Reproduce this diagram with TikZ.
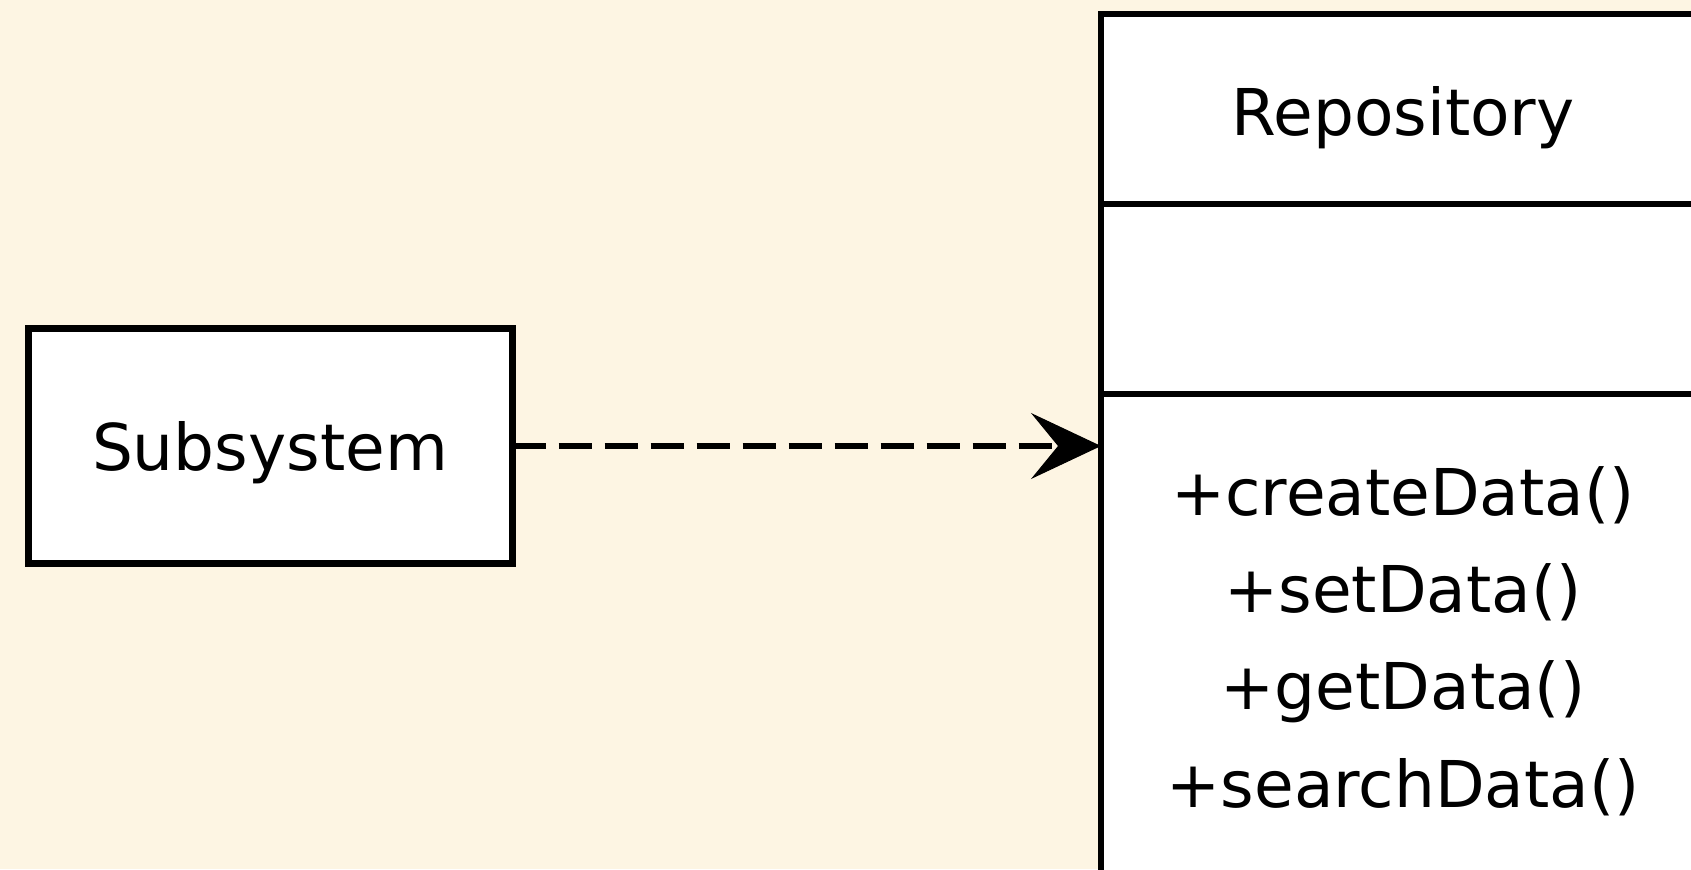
\documentclass[tikz,border=0pt]{standalone}
\usepackage{fontspec}
\setmainfont{DejaVu Sans}
\usetikzlibrary{arrows.meta}
\definecolor{canvas}{HTML}{FDF5E3}
\begin{document}
\begin{tikzpicture}[x=1bp,y=-1bp,
  box/.style={draw=black, line width=6.5bp, fill=white, rectangle,
    inner sep=0pt, outer sep=0pt},
  lbl/.style={font=\fontsize{64.5bp}{97bp}\selectfont, inner sep=0pt, anchor=base},
  dep/.style={line width=6bp, dash pattern=on 33bp off 13bp,
    -{Stealth[length=70bp,width=66bp,inset=27bp,line width=1bp]}}]
\useasboundingbox (0,0) rectangle (1691,869);
\clip (0,0) rectangle (1691,869);
\fill[canvas] (0,0) rectangle (1691,869);

% client component
\node[box, minimum width=484bp, minimum height=235bp] (sub) at (270.5,446) {};
\node[lbl] (subText) at (270,470) {Subsystem};

% class with three compartments (runs past the right and bottom edges)
\node[box, anchor=north west, minimum width=604bp, minimum height=190bp] (head) at (1101,14) {};
\node[box, anchor=north west, minimum width=604bp, minimum height=190bp] (attr) at (head.south west) {};
\node[box, anchor=north west, minimum width=604bp, minimum height=505bp] (ops) at (attr.south west) {};

\node[lbl] (repoText) at (1403,135) {Repository};
\node[lbl] (m1) at (1403,515) {+createData()};
\node[lbl] (m2) at (1403,612) {+setData()};
\node[lbl] (m3) at (1403,709) {+getData()};
\node[lbl] (m4) at (1403,807) {+searchData()};

% dependency
\draw[dep] (sub.east) -- (sub.east -| ops.west);
\end{tikzpicture}
\end{document}
